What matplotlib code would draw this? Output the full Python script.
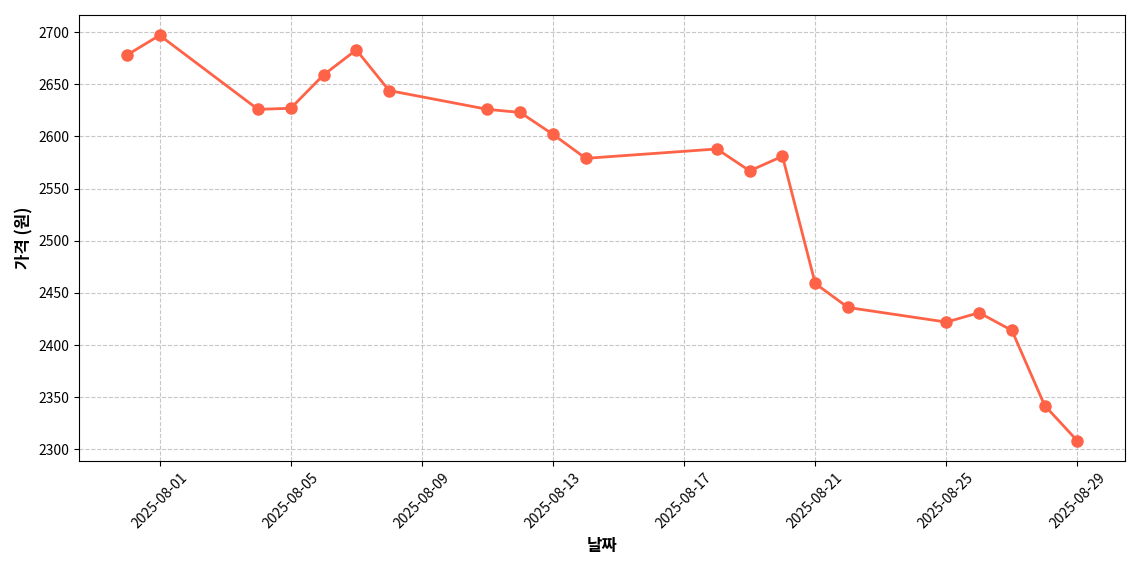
import matplotlib
matplotlib.use("Agg")
import matplotlib.pyplot as plt
import matplotlib.dates as mdates
import pandas as pd

plt.rcParams['font.family'] = ['Noto Sans CJK KR', 'DejaVu Sans']

dates = ["2025-07-31","2025-08-01","2025-08-04","2025-08-05","2025-08-06","2025-08-07","2025-08-08",
         "2025-08-11","2025-08-12","2025-08-13","2025-08-14","2025-08-18","2025-08-19","2025-08-20",
         "2025-08-21","2025-08-22","2025-08-25","2025-08-26","2025-08-27","2025-08-28","2025-08-29"]
prices = [2678,2697,2626,2627,2659,2683,2644,2626,2623,2602,2579,2588,2567,2581,2459,2436,2422,2431,2414,2342,2308]
d = pd.to_datetime(dates)

fig, ax = plt.subplots(figsize=(11.4,5.7), dpi=100)
ax.plot(d, prices, color='#FF6347', marker='o', markersize=8, linewidth=2)
ax.set_xlabel('날짜', fontsize=12, fontweight='bold')
ax.set_ylabel('가격 (원)', fontsize=12, fontweight='bold')
ax.grid(True, linestyle='--', alpha=0.7)
ax.xaxis.set_major_locator(mdates.DayLocator(bymonthday=[1,5,9,13,17,21,25,29]))
ax.xaxis.set_major_formatter(mdates.DateFormatter('%Y-%m-%d'))
plt.setp(ax.get_xticklabels(), rotation=45)
fig.tight_layout()
fig.savefig('out.png')
